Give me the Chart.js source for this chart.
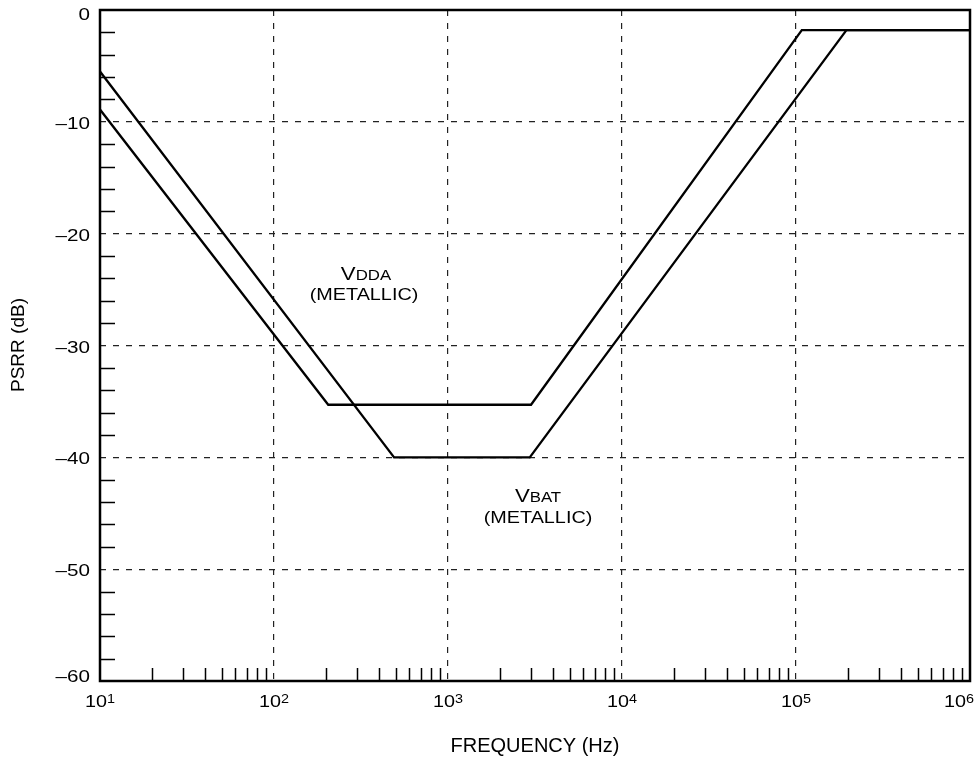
<!DOCTYPE html>
<html>
<head>
<meta charset="utf-8">
<script src="https://cdn.jsdelivr.net/npm/chart.js@4"></script>
<style>
  body { margin: 0; background: #fff; }
  #psrr { display: block; }
</style>
</head>
<body>
<canvas id="psrr" width="980" height="760"></canvas>
<script>
// PSRR curves
const freqVdda = [10, 205, 3000, 108000, 1000000];
const psrrVdda = [-8.9, -35.3, -35.3, -1.8, -1.8];
const freqVbat = [10, 490, 2950, 195000, 1000000];
const psrrVbat = [-5.5, -40, -40, -1.8, -1.8];

// axis ticks
const xDecades = [1, 2, 3, 4, 5, 6];   // exponents of 10
const yTicks = [0, -10, -20, -30, -40, -50, -60];

const FONT = '"Liberation Sans", Arial, Helvetica, sans-serif';

function toPoints(xs, ys) {
    return xs.map((x, i) => ({ x: x, y: ys[i] }));
}

// draw text stretched horizontally a bit, like the original
function stretchText(ctx, str, x, y, size, align, sx) {
    ctx.save();
    ctx.font = size + 'px ' + FONT;
    ctx.translate(x, y);
    ctx.scale(sx, 1);
    ctx.textAlign = align;
    ctx.textBaseline = 'alphabetic';
    ctx.fillText(str, 0, 0);
    ctx.restore();
}

function textWidth(ctx, str, size, sx) {
    ctx.save();
    ctx.font = size + 'px ' + FONT;
    const w = ctx.measureText(str).width * sx;
    ctx.restore();
    return w;
}

// V + small caps subscript label, centred on x
function voltLabel(ctx, sub, cx, base) {
    const wV = textWidth(ctx, 'V', 18.5, 1.2);
    const wS = textWidth(ctx, sub, 14, 1.2);
    const left = cx - (wV + wS) / 2;
    stretchText(ctx, 'V', left, base, 18.5, 'left', 1.2);
    stretchText(ctx, sub, left + wV, base, 14, 'left', 1.2);
}

const framePlugin = {
    id: 'frame',
    afterDraw(chart) {
        const ctx = chart.ctx;
        const a = chart.chartArea;
        const xs = chart.scales.x;
        const ys = chart.scales.y;
        ctx.save();
        ctx.fillStyle = '#000';
        ctx.strokeStyle = '#000';

        // minor ticks on x (inside, from bottom)
        ctx.lineWidth = 1.5;
        ctx.beginPath();
        for (let e = 1; e < 6; e++) {
            for (let m = 2; m <= 9; m++) {
                const px = Math.round(xs.getPixelForValue(m * Math.pow(10, e))) + 0.5;
                ctx.moveTo(px, a.bottom);
                ctx.lineTo(px, a.bottom - 13);
            }
        }
        // minor ticks on y (inside, from left)
        for (let v = -2; v > -60; v -= 2) {
            if (v % 10 === 0) continue;
            const py = Math.round(ys.getPixelForValue(v)) + 0.5;
            ctx.moveTo(a.left, py);
            ctx.lineTo(a.left + 15, py);
        }
        ctx.stroke();

        // frame
        ctx.lineWidth = 2.5;
        ctx.strokeRect(a.left, a.top, a.right - a.left, a.bottom - a.top);

        // y tick labels
        yTicks.forEach((v, i) => {
            const py = ys.getPixelForValue(v);
            let base = py + 7;
            if (i === 0) base = py + 10;
            if (i === yTicks.length - 1) base = py + 1;
            const label = v < 0 ? '\u2013' + Math.abs(v) : String(v);
            stretchText(ctx, label, 90, base, 16.5, 'right', 1.25);
        });

        // x tick labels 10^n
        xDecades.forEach(e => {
            const px = xs.getPixelForValue(Math.pow(10, e));
            const wB = textWidth(ctx, '10', 16.5, 1.2);
            const wE = textWidth(ctx, String(e), 12, 1.2);
            let left = px - (wB + wE) / 2;
            if (left + wB + wE > 974) left = 974 - wB - wE;
            stretchText(ctx, '10', left, 707, 16.5, 'left', 1.2);
            stretchText(ctx, String(e), left + wB, 703, 12, 'left', 1.2);
        });

        // axis titles
        ctx.font = '20px ' + FONT;
        ctx.textAlign = 'center';
        ctx.textBaseline = 'alphabetic';
        ctx.fillText('FREQUENCY (Hz)', (a.left + a.right) / 2, 752);

        ctx.save();
        ctx.translate(24, 345);
        ctx.rotate(-Math.PI / 2);
        ctx.font = '19px ' + FONT;
        ctx.fillText('PSRR (dB)', 0, 0);
        ctx.restore();

        // curve annotations
        voltLabel(ctx, 'DDA', 366, 280);
        stretchText(ctx, '(METALLIC)', 364, 300, 16.5, 'center', 1.2);
        voltLabel(ctx, 'BAT', 538, 502);
        stretchText(ctx, '(METALLIC)', 538, 523, 16.5, 'center', 1.2);

        ctx.restore();
    }
};

new Chart(document.getElementById('psrr'), {
    type: 'line',
    data: {
        datasets: [
            {
                label: 'VDDA (METALLIC)',
                data: toPoints(freqVdda, psrrVdda),
                borderColor: '#000',
                borderWidth: 2.3,
                pointRadius: 0,
                tension: 0,
                fill: false
            },
            {
                label: 'VBAT (METALLIC)',
                data: toPoints(freqVbat, psrrVbat),
                borderColor: '#000',
                borderWidth: 2.3,
                pointRadius: 0,
                tension: 0,
                fill: false
            }
        ]
    },
    options: {
        responsive: false,
        animation: false,
        layout: { padding: { top: 10, right: 10, left: 0, bottom: 0 } },
        plugins: {
            legend: { display: false },
            tooltip: { enabled: false }
        },
        scales: {
            x: {
                type: 'logarithmic',
                min: 10,
                max: 1000000,
                afterBuildTicks(scale) {
                    scale.ticks = xDecades.map(e => ({ value: Math.pow(10, e) }));
                },
                afterFit(scale) { scale.height = 79; },
                ticks: { display: false },
                grid: { color: '#222', lineWidth: 1.2, drawTicks: false },
                border: { display: false, dash: [6, 7] }
            },
            y: {
                type: 'linear',
                min: -60,
                max: 0,
                afterBuildTicks(scale) {
                    scale.ticks = yTicks.map(v => ({ value: v }));
                },
                afterFit(scale) { scale.width = 100; },
                ticks: { display: false },
                grid: { color: '#222', lineWidth: 1.2, drawTicks: false },
                border: { display: false, dash: [6, 7] }
            }
        }
    },
    plugins: [framePlugin]
});
</script>
</body>
</html>
